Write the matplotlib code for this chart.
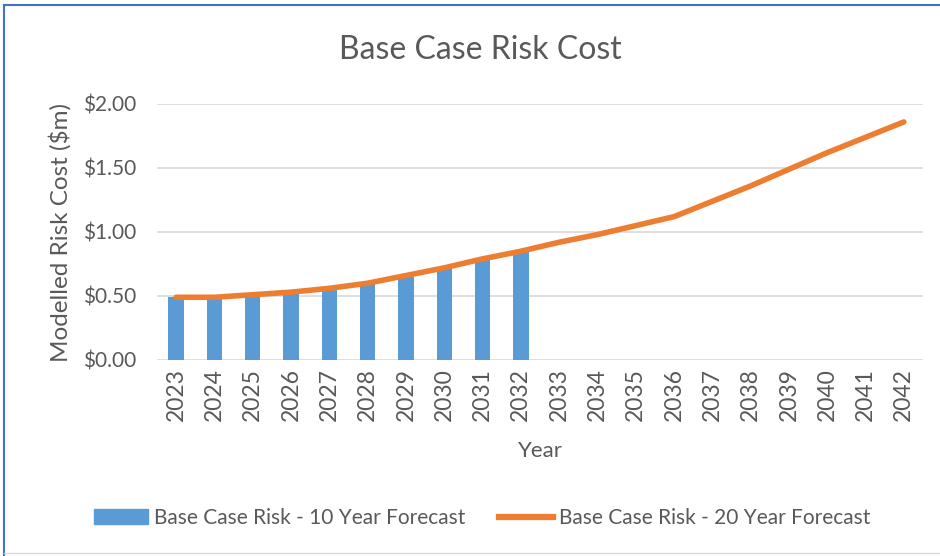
import matplotlib
matplotlib.use("Agg")
import matplotlib.pyplot as plt
from matplotlib.lines import Line2D
from matplotlib.patches import Patch
import numpy as np

years = [str(y) for y in range(2023, 2043)]
forecast_10yr = [0.49, 0.49, 0.50, 0.52, 0.55, 0.59, 0.65, 0.71, 0.78, 0.84]
forecast_20yr = [0.49, 0.49, 0.51, 0.53, 0.56, 0.60, 0.66, 0.72, 0.79, 0.85,
                 0.92, 0.98, 1.05, 1.12, 1.24, 1.36, 1.49, 1.62, 1.74, 1.86]
y_ticks = [0.0, 0.5, 1.0, 1.5, 2.0]
y_tick_labels = ["$0.00", "$0.50", "$1.00", "$1.50", "$2.00"]

FONT = ["Lato", "DejaVu Sans"]
TXT = "#595959"
BLUE = "#5B9BD5"
ORANGE = "#ED7D31"

plt.rcParams["font.family"] = FONT

fig = plt.figure(figsize=(9.40, 5.56), dpi=100)
W, H = 940, 556
ax = fig.add_axes([157 / W, 1 - 360 / H, (923 - 157) / W, (360 - 104) / H])

x = np.arange(len(years))
ax.bar(x[:len(forecast_10yr)], forecast_10yr, width=0.4, color=BLUE, zorder=2)
ax.plot(x, forecast_20yr, color=ORANGE, lw=4, solid_capstyle="round", zorder=3)

ax.set_xlim(-0.5, len(years) - 0.5)
ax.set_ylim(0, 2.0)
ax.set_yticks(y_ticks)
ax.set_yticklabels(y_tick_labels, fontsize=15, color=TXT)
ax.set_xticks(x)
ax.set_xticklabels(years, rotation=90, fontsize=16.5, color=TXT)
ax.tick_params(axis="y", length=0, pad=15)
ax.tick_params(axis="x", length=0, pad=6)
ax.yaxis.grid(True, color="#D9D9D9", lw=1.2, zorder=0)
ax.set_axisbelow(True)
for s in ax.spines.values():
    s.set_visible(False)

ax.set_ylabel("Modelled Risk Cost ($m)", fontsize=17.5, color=TXT, labelpad=8)
ax.set_xlabel("Year", fontsize=16, color=TXT, labelpad=14)
fig.text(480 / W, 1 - 50 / H, "Base Case Risk Cost", fontsize=23, color=TXT,
         ha="center", va="center")

handles = [Patch(facecolor=BLUE, edgecolor=BLUE),
           Line2D([0], [0], color=ORANGE, lw=4.5)]
labels = ["Base Case Risk - 10 Year Forecast", "Base Case Risk - 20 Year Forecast"]
fig.legend(handles, labels, loc="center", bbox_to_anchor=(482 / W, 1 - 518 / H),
           ncol=2, frameon=False, fontsize=15, labelcolor=TXT,
           handlelength=2.6, handletextpad=0.3, columnspacing=1.6)

# chart frame
fig.add_artist(Line2D([4 / W, 4 / W], [0, 1 - 5 / H], color="#4472C4", lw=1.5,
                      transform=fig.transFigure))
fig.add_artist(Line2D([4 / W, 1], [1 - 5 / H, 1 - 5 / H], color="#4472C4", lw=1.5,
                      transform=fig.transFigure))
fig.add_artist(Line2D([4 / W, 1], [1 - 553 / H, 1 - 553 / H], color="#D9D9D9", lw=1,
                      transform=fig.transFigure))

fig.savefig("out.png", dpi=100)
